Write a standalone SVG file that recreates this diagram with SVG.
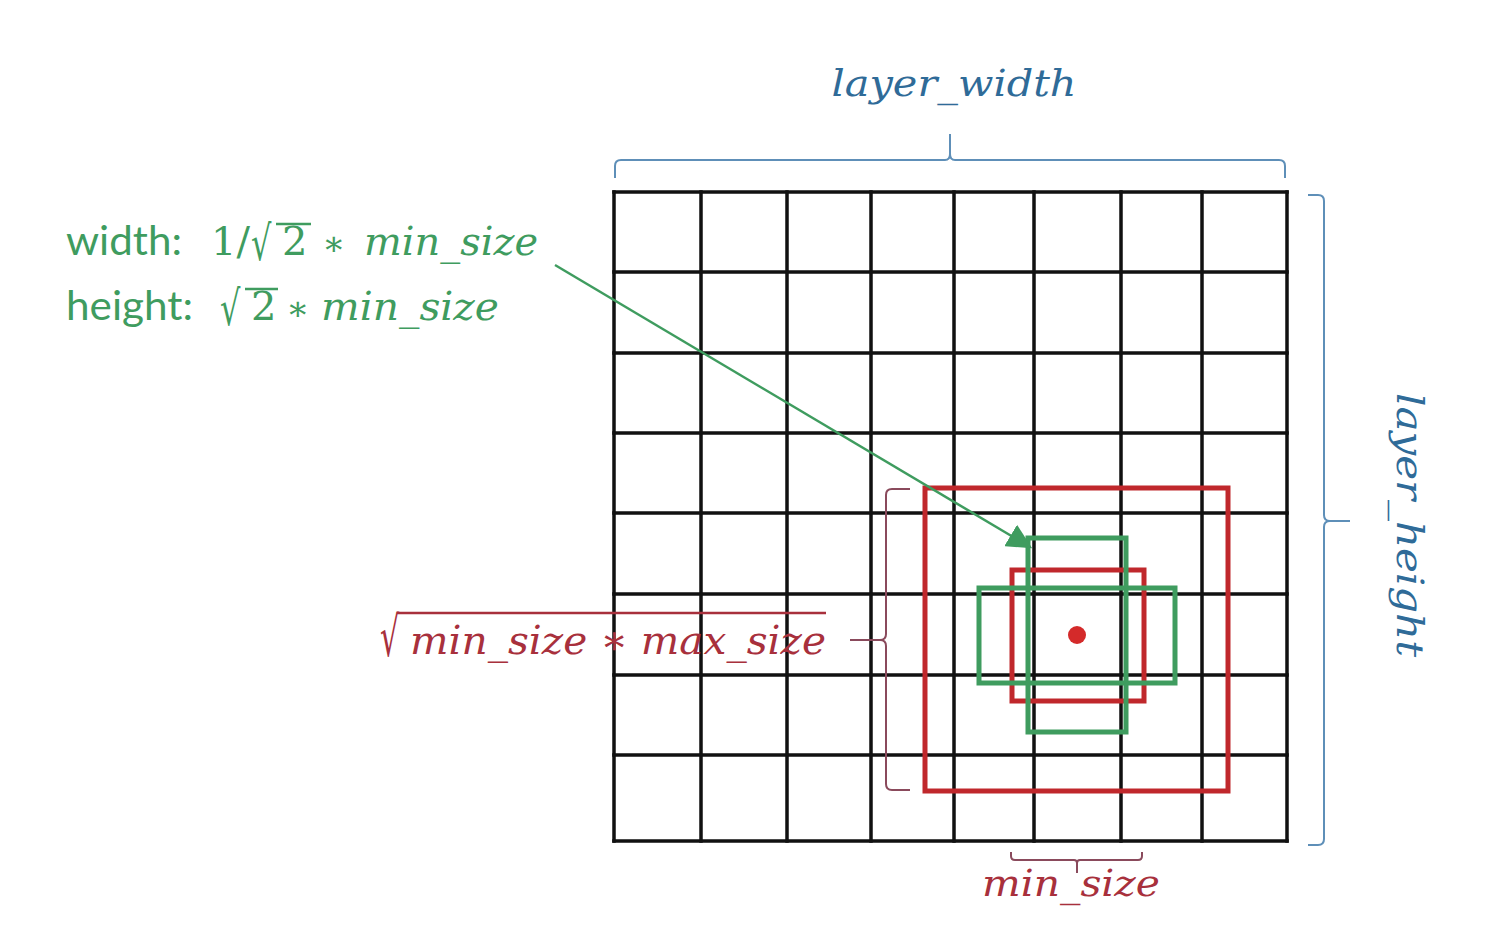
<svg xmlns="http://www.w3.org/2000/svg" width="1508" height="941" viewBox="0 0 1508 941">
<defs>
<style>
.grid{stroke:#111;stroke-width:3.5;fill:none;stroke-linecap:square}
.red{stroke:#c0282c;stroke-width:5;fill:none}
.grn{stroke:#3f9c5f;stroke-width:5;fill:none}
.brace{fill:none;stroke:#5e8fb8;stroke-width:2}
.rbrace{fill:none;stroke:#8a4a5c;stroke-width:2}
.math{font-family:"DejaVu Serif","Liberation Serif",serif;font-style:italic}
.mathu{font-family:"DejaVu Serif","Liberation Serif",serif}
.sans{font-family:Lato,"Open Sans","Liberation Sans",sans-serif}
.tb{fill:#2f6b98}
.tg{fill:#3f9c5f}
.tr{fill:#a8303c}
</style>
<marker id="ah" viewBox="0 0 10 10" refX="9" refY="5" markerWidth="10" markerHeight="10" orient="auto" markerUnits="strokeWidth">
<path d="M0,0 L10,5 L0,10 z" fill="#3f9c5f"/>
</marker>
</defs>
<rect width="1508" height="941" fill="#fff"/>

<g id="grid">
<path class="grid" d="M614,192V841M701,192V841M787,192V841M871,192V841M954,192V841M1034,192V841M1121,192V841M1202,192V841M1287,192V841"/>
<path class="grid" d="M614,192H1287M614,272H1287M614,353H1287M614,433H1287M614,513H1287M614,594H1287M614,675H1287M614,755H1287M614,841H1287"/>
</g>

<g id="boxes">
<rect class="red" x="925" y="488" width="303" height="303"/>
<rect class="red" x="1012" y="570" width="132" height="131"/>
<rect class="grn" x="979" y="588" width="196" height="95"/>
<rect class="grn" x="1028" y="538" width="98" height="194"/>
<circle cx="1077" cy="635" r="9" fill="#d42a2a"/>
</g>

<g id="connectors">
<line x1="555" y1="265" x2="1030" y2="547" stroke="#3f9c5f" stroke-width="2.5" marker-end="url(#ah)"/>
</g>

<g id="width-brace">
<path class="brace" d="M615,178 V166 Q615,160 621,160 H945 Q950,160 950,154 V134 M950,154 Q950,160 955,160 H1279 Q1285,160 1285,166 V178"/>
<text class="math tb" x="954" y="96" font-size="38" text-anchor="middle" textLength="245" lengthAdjust="spacingAndGlyphs">layer_width</text>
</g>

<g id="height-brace">
<path class="brace" d="M1308,195 H1318 Q1324,195 1324,201 V515 Q1324,521 1330,521 H1350 M1330,521 Q1324,521 1324,527 V839 Q1324,845 1318,845 H1308"/>
<text class="math tb" transform="translate(1397,525) rotate(90)" font-size="38" text-anchor="middle" textLength="264" lengthAdjust="spacingAndGlyphs">layer_height</text>
</g>

<g id="minsize-brace">
<path class="rbrace" d="M1011,852 V856 Q1011,860 1015,860 H1074 Q1077,860 1077,863 V873 M1077,863 Q1077,860 1080,860 H1138 Q1142,860 1142,856 V852"/>
<text class="math tr" x="1071" y="896" font-size="38" text-anchor="middle" textLength="178" lengthAdjust="spacingAndGlyphs">min_size</text>
</g>

<g id="sqrt-bracket">
<path class="rbrace" d="M910,489 H892 Q886,489 886,495 V634 Q886,640 880,640 H850 M880,640 Q886,640 886,646 V784 Q886,790 892,790 H910"/>
<text class="mathu tr" transform="translate(380,656) scale(0.72,1.3)" font-size="42">√</text>
<line x1="397" y1="613" x2="826" y2="613" stroke="#a8303c" stroke-width="2.5"/>
<text class="math tr" x="410" y="654" font-size="40" textLength="416" lengthAdjust="spacingAndGlyphs">min_size ∗ max_size</text>
</g>

<g id="green-label">
<text class="sans tg" x="66" y="255" font-size="40" textLength="116" lengthAdjust="spacingAndGlyphs">width:</text>
<text class="mathu tg" x="211" y="255" font-size="40">1/</text>
<text class="mathu tg" transform="translate(251,260) scale(0.8,1.2)" font-size="40">√</text>
<text class="mathu tg" x="282" y="255" font-size="40">2</text>
<line x1="276" y1="224" x2="311" y2="224" stroke="#3f9c5f" stroke-width="2.5"/>
<text class="mathu tg" x="322" y="255" font-size="34">∗</text>
<text class="math tg" x="364" y="255" font-size="40" textLength="174" lengthAdjust="spacingAndGlyphs">min_size</text>
<text class="sans tg" x="66" y="320" font-size="40" textLength="127" lengthAdjust="spacingAndGlyphs">height:</text>
<text class="mathu tg" transform="translate(220,325) scale(0.8,1.2)" font-size="40">√</text>
<text class="mathu tg" x="251" y="320" font-size="40">2</text>
<line x1="245" y1="289" x2="278" y2="289" stroke="#3f9c5f" stroke-width="2.5"/>
<text class="mathu tg" x="286" y="320" font-size="34">∗</text>
<text class="math tg" x="321" y="320" font-size="40" textLength="178" lengthAdjust="spacingAndGlyphs">min_size</text>
</g>
</svg>
